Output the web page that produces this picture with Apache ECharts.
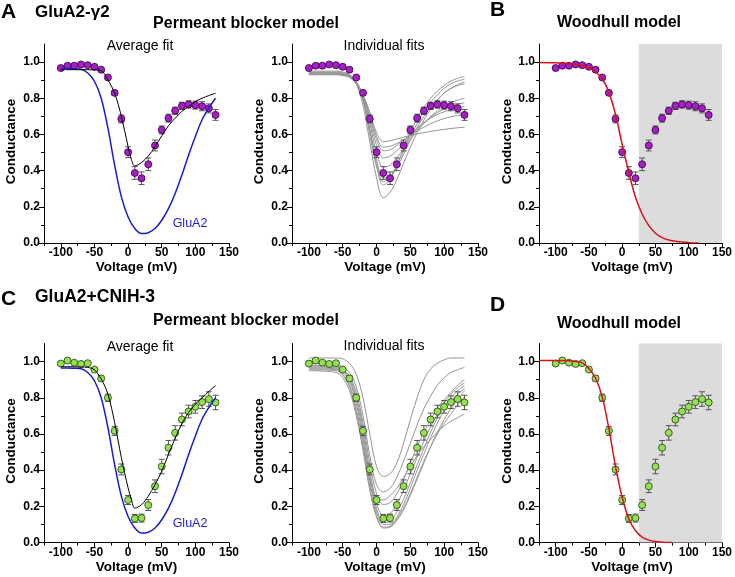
<!DOCTYPE html>
<html><head><meta charset="utf-8">
<script src="https://cdn.jsdelivr.net/npm/echarts@6/dist/echarts.min.js"></script>
<style>html,body{margin:0;padding:0;background:#fff}#c{width:735px;height:577px}</style>
</head><body><div id="c"></div>
<script>
// ---------- data ----------
const voltage = [-100,-90,-80,-70,-60,-50,-40,-30,-20,-10,0,10,20,30,40,50,60,70,80,90,100,110,120,130];
const gammaMean = [0.967,0.980,0.980,0.987,0.983,0.974,0.958,0.915,0.830,0.686,0.502,0.387,0.358,0.435,0.539,0.625,0.690,0.731,0.758,0.766,0.762,0.756,0.744,0.708];
const gammaErr  = [0.008,0.008,0.008,0.008,0.008,0.008,0.010,0.010,0.012,0.022,0.030,0.035,0.035,0.035,0.030,0.022,0.022,0.020,0.020,0.020,0.022,0.025,0.025,0.030];
const cnihMean  = [0.989,1.006,0.994,0.987,0.991,0.956,0.907,0.800,0.617,0.404,0.235,0.133,0.135,0.207,0.311,0.420,0.524,0.606,0.680,0.724,0.750,0.776,0.793,0.774];
const cnihErr   = [0.008,0.008,0.008,0.008,0.008,0.010,0.015,0.020,0.025,0.030,0.025,0.022,0.022,0.030,0.035,0.040,0.040,0.040,0.035,0.035,0.035,0.035,0.040,0.040];

const avgFitV = [-100,-90,-80,-70,-60,-50,-40,-30,-20,-10,0,5,10,20,30,40,50,60,70,80,90,100,110,120,130];
const gammaAvgFit = [0.958,0.958,0.958,0.958,0.958,0.957,0.952,0.902,0.828,0.700,0.533,0.460,0.426,0.445,0.480,0.533,0.592,0.648,0.690,0.727,0.755,0.782,0.800,0.815,0.828];
const cnihAvgFit  = [0.972,0.972,0.971,0.970,0.968,0.954,0.904,0.820,0.663,0.469,0.302,0.237,0.190,0.209,0.256,0.320,0.394,0.487,0.576,0.657,0.719,0.765,0.800,0.835,0.867];

const glua2V = [-100,-90,-80,-70,-60,-50,-40,-30,-20,-10,0,10,20,30,40,50,60,70,80,90,100,110,120,130];
const glua2Curve = [0.965,0.965,0.963,0.960,0.940,0.894,0.800,0.635,0.430,0.255,0.144,0.080,0.052,0.057,0.080,0.126,0.190,0.274,0.376,0.487,0.589,0.681,0.746,0.800];

const woodhullGammaV = [-125,-100,-80,-60,-50,-40,-30,-20,-10,0,10,20,30,40,50,60,70,80,90,100,115];
const woodhullGamma  = [0.998,0.996,0.992,0.980,0.969,0.945,0.908,0.834,0.710,0.545,0.390,0.253,0.160,0.096,0.054,0.030,0.017,0.010,0.005,0.002,0.000];
const woodhullCnihV  = [-125,-100,-80,-70,-60,-50,-40,-30,-20,-10,0,10,20,30,40,50,60,75];
const woodhullCnih   = [1.006,1.006,1.005,1.000,0.993,0.962,0.908,0.805,0.630,0.420,0.250,0.130,0.065,0.030,0.013,0.005,0.002,0.000];
const blockedRange = [25, 150];

const indV = [-100,-60,-50,-40,-30,-20,-10,0,10,20,30,40,50,60,70,80,90,100,110,120,130];
const gammaIndFits = [
  [0.950,0.950,0.945,0.930,0.880,0.760,0.560,0.360,0.250,0.280,0.350,0.440,0.530,0.610,0.680,0.740,0.790,0.830,0.855,0.870,0.880],
  [0.945,0.945,0.940,0.930,0.890,0.790,0.600,0.420,0.320,0.350,0.430,0.520,0.610,0.690,0.750,0.800,0.840,0.870,0.895,0.910,0.920],
  [0.940,0.940,0.935,0.925,0.890,0.800,0.620,0.440,0.340,0.360,0.430,0.510,0.590,0.660,0.730,0.780,0.820,0.855,0.880,0.895,0.905],
  [0.935,0.935,0.930,0.920,0.880,0.790,0.630,0.460,0.360,0.370,0.420,0.490,0.570,0.640,0.700,0.750,0.790,0.830,0.855,0.875,0.890],
  [0.940,0.940,0.935,0.920,0.880,0.800,0.660,0.500,0.420,0.430,0.470,0.520,0.570,0.620,0.660,0.700,0.730,0.755,0.775,0.790,0.800],
  [0.935,0.935,0.930,0.920,0.890,0.810,0.680,0.540,0.470,0.480,0.510,0.550,0.590,0.630,0.665,0.695,0.720,0.740,0.755,0.767,0.775],
  [0.930,0.930,0.925,0.915,0.880,0.810,0.700,0.570,0.510,0.515,0.540,0.570,0.600,0.635,0.665,0.690,0.710,0.725,0.737,0.747,0.755],
  [0.935,0.935,0.930,0.920,0.890,0.820,0.720,0.590,0.530,0.535,0.550,0.570,0.595,0.620,0.640,0.660,0.675,0.688,0.698,0.705,0.710],
  [0.940,0.940,0.935,0.925,0.890,0.820,0.720,0.610,0.560,0.565,0.575,0.585,0.595,0.603,0.610,0.617,0.623,0.628,0.633,0.637,0.640]
];
const cnihIndFits = [
  [1.020,1.020,1.015,0.990,0.930,0.800,0.600,0.420,0.365,0.380,0.440,0.550,0.680,0.800,0.900,0.960,0.990,1.010,1.020,1.020,1.020],
  [0.990,0.985,0.970,0.940,0.860,0.700,0.480,0.320,0.280,0.300,0.360,0.450,0.550,0.650,0.740,0.810,0.870,0.910,0.940,0.955,0.968],
  [0.980,0.975,0.960,0.920,0.830,0.660,0.440,0.270,0.210,0.220,0.270,0.350,0.440,0.530,0.610,0.680,0.740,0.790,0.830,0.870,0.900],
  [0.975,0.970,0.955,0.910,0.810,0.630,0.400,0.220,0.150,0.160,0.210,0.290,0.380,0.470,0.560,0.640,0.710,0.770,0.820,0.855,0.885],
  [0.970,0.965,0.950,0.900,0.790,0.600,0.370,0.190,0.120,0.125,0.170,0.240,0.330,0.430,0.520,0.610,0.690,0.750,0.800,0.840,0.867],
  [0.965,0.960,0.940,0.890,0.770,0.570,0.340,0.170,0.100,0.100,0.140,0.210,0.300,0.400,0.490,0.580,0.660,0.730,0.780,0.820,0.850],
  [0.960,0.955,0.930,0.870,0.740,0.540,0.310,0.150,0.080,0.085,0.120,0.180,0.260,0.350,0.440,0.530,0.610,0.680,0.740,0.790,0.840],
  [0.955,0.950,0.925,0.860,0.720,0.510,0.290,0.140,0.085,0.090,0.130,0.190,0.270,0.360,0.450,0.530,0.600,0.660,0.710,0.760,0.805],
  [0.950,0.940,0.910,0.840,0.700,0.520,0.350,0.250,0.235,0.260,0.300,0.360,0.420,0.480,0.530,0.570,0.610,0.645,0.670,0.690,0.710]
];

const xMajorTicks = [-100,-50,0,50,100,150];
const xMinorTicks = [-125,-75,-25,25,75,125];
const yMajorTicks = [0,0.2,0.4,0.6,0.8,1.0];
const yMinorTicks = [0.1,0.3,0.5,0.7,0.9];

// ---------- layout ----------
const FONT = '"Liberation Sans", Arial, Helvetica, sans-serif';
const panels = [
  {left:44,  top:44,    width:185, height:199},
  {left:292, top:44,    width:186, height:199},
  {left:539, top:44,    width:186, height:199},
  {left:44,  top:343.5, width:185, height:199},
  {left:292, top:343.5, width:186, height:199},
  {left:539, top:343.5, width:186, height:199}
];
const PURPLE = '#a51fc6', PURPLE_B = '#43074f';
const GREEN = '#93e052', GREEN_B = '#324f18';

const grids = [], xAxes = [], yAxes = [];
panels.forEach((p, i) => {
  grids.push({left:p.left, top:p.top, width:p.width, height:p.height});
  const axLine = {onZero:false, lineStyle:{color:'#000', width:1}};
  xAxes.push({type:'value', gridIndex:i, min:-125, max:150, position:'bottom',
    axisLine:axLine, splitLine:{show:false},
    axisTick:{customValues:xMajorTicks, length:5, lineStyle:{color:'#000'}},
    axisLabel:{customValues:xMajorTicks, margin:4, color:'#000', fontWeight:'bold', fontSize:12, fontFamily:FONT}});
  xAxes.push({type:'value', gridIndex:i, min:-125, max:150, position:'bottom',
    axisLine:{show:false, onZero:false}, splitLine:{show:false}, axisLabel:{show:false},
    axisTick:{customValues:xMinorTicks, length:3, lineStyle:{color:'#000'}}});
  yAxes.push({type:'value', gridIndex:i, min:0, max:1.1, position:'left',
    axisLine:axLine, splitLine:{show:false},
    axisTick:{customValues:yMajorTicks, length:5, lineStyle:{color:'#000'}},
    axisLabel:{customValues:yMajorTicks, formatter:v => v.toFixed(1), margin:4, color:'#000', fontWeight:'bold', fontSize:12, fontFamily:FONT}});
  yAxes.push({type:'value', gridIndex:i, min:0, max:1.1, position:'left',
    axisLine:{show:false, onZero:false}, splitLine:{show:false}, axisLabel:{show:false},
    axisTick:{customValues:yMinorTicks, length:3, lineStyle:{color:'#000'}}});
});

const series = [];
const zip = (xs, ys) => xs.map((x, k) => [x, ys[k]]);
function addLine(pi, xs, ys, color, width, z, extra) {
  series.push(Object.assign({type:'line', xAxisIndex:2*pi, yAxisIndex:2*pi, data:zip(xs, ys),
    showSymbol:false, symbol:'none', smooth:0.35, silent:true, z:z,
    lineStyle:{color:color, width:width}}, extra || {}));
}
function addPoints(pi, means, errs, fill, border) {
  series.push({type:'custom', xAxisIndex:2*pi, yAxisIndex:2*pi, z:3, silent:true,
    data: voltage.map((v, k) => [v, means[k], errs[k]]),
    encode:{x:0, y:1},
    renderItem:function(params, api){
      const x = api.value(0), y = api.value(1), e = api.value(2);
      const a = api.coord([x, y + e]), b = api.coord([x, y - e]);
      const w = 3, st = {stroke:'#555', lineWidth:1};
      return {type:'group', children:[
        {type:'line', shape:{x1:a[0], y1:a[1], x2:b[0], y2:b[1]}, style:st},
        {type:'line', shape:{x1:a[0]-w, y1:a[1], x2:a[0]+w, y2:a[1]}, style:st},
        {type:'line', shape:{x1:b[0]-w, y1:b[1], x2:b[0]+w, y2:b[1]}, style:st}
      ]};
    }});
  series.push({type:'scatter', xAxisIndex:2*pi, yAxisIndex:2*pi, z:4, silent:true,
    data:zip(voltage, means), symbol:'circle', symbolSize:7,
    itemStyle:{color:fill, borderColor:border, borderWidth:0.9, opacity:1}});
}

// Panel A (average fit)
addPoints(0, gammaMean, gammaErr, PURPLE, PURPLE_B);
addLine(0, glua2V, glua2Curve, '#1c1ccf', 1.5, 5);
addLine(0, avgFitV, gammaAvgFit, '#000', 1, 6);
// Panel A (individual fits)
gammaIndFits.forEach(f => addLine(1, indV, f, '#959595', 1, 2));
addPoints(1, gammaMean, gammaErr, PURPLE, PURPLE_B);
// Panel B
addLine(2, woodhullGammaV, woodhullGamma, '#d4141a', 1.5, 6, {
  markArea:{silent:true, itemStyle:{color:'#dcdcdc'}, data:[[{xAxis:blockedRange[0], yAxis:0},{xAxis:blockedRange[1], yAxis:1.1}]]}});
addPoints(2, gammaMean, gammaErr, PURPLE, PURPLE_B);
// Panel C (average fit)
addPoints(3, cnihMean, cnihErr, GREEN, GREEN_B);
addLine(3, glua2V, glua2Curve, '#1c1ccf', 1.5, 5);
addLine(3, avgFitV, cnihAvgFit, '#000', 1, 6);
// Panel C (individual fits)
cnihIndFits.forEach(f => addLine(4, indV, f, '#959595', 1, 2));
addPoints(4, cnihMean, cnihErr, GREEN, GREEN_B);
// Panel D
addLine(5, woodhullCnihV, woodhullCnih, '#d4141a', 1.5, 6, {
  markArea:{silent:true, itemStyle:{color:'#dcdcdc'}, data:[[{xAxis:blockedRange[0], yAxis:0},{xAxis:blockedRange[1], yAxis:1.1}]]}});
addPoints(5, cnihMean, cnihErr, GREEN, GREEN_B);

// ---------- texts ----------
function txt(text, x, y, font, opts) {
  opts = opts || {};
  return {type:'text', x:x, y:y, rotation:opts.rot || 0, z:100, silent:true,
    style:{text:text, font:font, fill:opts.color || '#000',
      align:opts.align || 'center', verticalAlign:'middle',
      textAlign:opts.align || 'center', textVerticalAlign:'middle'}};
}
const B = (s) => 'bold ' + s + 'px ' + FONT;
const N = (s) => s + 'px ' + FONT;
const graphics = [];
// top row
graphics.push(txt('A', 1, 12, B(21), {align:'left'}));
graphics.push(txt('GluA2-\u03b32', 35, 12, B(17), {align:'left'}));
graphics.push(txt('Permeant blocker model', 246, 23.8, B(16)));
graphics.push(txt('Average fit', 140, 46.5, N(14)));
graphics.push(txt('Individual fits', 384, 46.5, N(14)));
graphics.push(txt('B', 490, 10, B(21), {align:'left'}));
graphics.push(txt('Woodhull model', 619, 22.5, B(16)));
graphics.push(txt('GluA2', 190, 224, N(12.5), {color:'#1c1ccf'}));
// bottom row
graphics.push(txt('C', 1, 299, B(21), {align:'left'}));
graphics.push(txt('GluA2+CNIH-3', 35, 297.5, B(17.5), {align:'left'}));
graphics.push(txt('Permeant blocker model', 246, 321, B(16)));
graphics.push(txt('Average fit', 140, 347.5, N(14)));
graphics.push(txt('Individual fits', 384, 346.5, N(14)));
graphics.push(txt('D', 490, 305, B(21), {align:'left'}));
graphics.push(txt('Woodhull model', 619, 324, B(16)));
graphics.push(txt('GluA2', 190, 524, N(12.5), {color:'#1c1ccf'}));
// axis titles
panels.forEach((p, i) => {
  const yc = p.top + p.height / 2 - 2;
  const xname = [11, 259, 507][i % 3];
  graphics.push(txt('Conductance', xname, yc, B(13.5), {rot:Math.PI / 2}));
  graphics.push(txt('Voltage (mV)', p.left + p.width / 2, p.top + p.height + 24.5, B(13.5)));
});

const chart = echarts.init(document.getElementById('c'), null, {renderer:'canvas'});
chart.setOption({
  animation:false,
  backgroundColor:'#fff',
  grid:grids, xAxis:xAxes, yAxis:yAxes,
  series:series,
  graphic:graphics
});
</script>
</body></html>
